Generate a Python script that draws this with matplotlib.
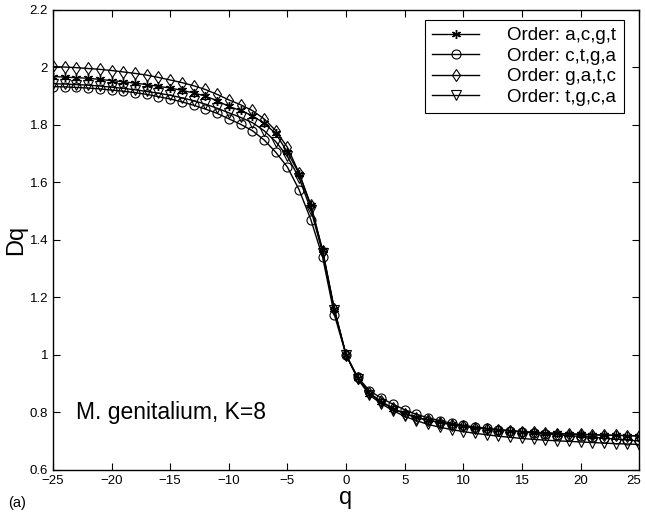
import numpy as np
import matplotlib
matplotlib.use("Agg")
import matplotlib.pyplot as plt
import matplotlib.transforms as mtrans
from matplotlib.ticker import FormatStrFormatter

plt.rcParams['font.family'] = ['Liberation Sans', 'DejaVu Sans']

q = np.arange(-25, 26)

# Order: a,c,g,t  (stars)
d_acgt = [1.968, 1.966, 1.964, 1.962, 1.958, 1.954, 1.950, 1.945, 1.940, 1.934,
          1.928, 1.920, 1.911, 1.900, 1.884, 1.864, 1.850, 1.832, 1.806, 1.770,
          1.705, 1.630, 1.520, 1.364, 1.158, 1.000, 0.918, 0.865, 0.836, 0.813,
          0.796, 0.783, 0.773, 0.765, 0.758, 0.752, 0.747, 0.743, 0.739, 0.736,
          0.733, 0.731, 0.729, 0.727, 0.725, 0.724, 0.722, 0.721, 0.720, 0.719, 0.718]
# Order: c,t,g,a  (circles)
d_ctga = [1.933, 1.932, 1.930, 1.928, 1.925, 1.921, 1.917, 1.912, 1.906, 1.898,
          1.890, 1.880, 1.868, 1.855, 1.840, 1.821, 1.802, 1.780, 1.748, 1.705,
          1.653, 1.574, 1.470, 1.340, 1.140, 1.000, 0.922, 0.875, 0.850, 0.828,
          0.809, 0.793, 0.781, 0.771, 0.762, 0.755, 0.749, 0.744, 0.740, 0.736,
          0.732, 0.728, 0.725, 0.722, 0.719, 0.716, 0.713, 0.710, 0.707, 0.704, 0.700]
# Order: g,a,t,c  (diamonds)
d_gatc = [2.003, 2.001, 1.999, 1.996, 1.993, 1.989, 1.984, 1.979, 1.973, 1.965,
          1.956, 1.947, 1.936, 1.923, 1.906, 1.887, 1.870, 1.850, 1.821, 1.780,
          1.722, 1.632, 1.520, 1.362, 1.160, 1.000, 0.918, 0.867, 0.838, 0.814,
          0.795, 0.782, 0.772, 0.764, 0.757, 0.751, 0.746, 0.742, 0.738, 0.735,
          0.732, 0.730, 0.728, 0.726, 0.724, 0.723, 0.722, 0.721, 0.720, 0.719, 0.718]
# Order: t,g,c,a  (triangles)
d_tgca = [1.943, 1.942, 1.940, 1.938, 1.935, 1.931, 1.927, 1.922, 1.916, 1.910,
          1.903, 1.894, 1.884, 1.872, 1.858, 1.842, 1.826, 1.808, 1.780, 1.742,
          1.690, 1.615, 1.505, 1.355, 1.155, 1.000, 0.916, 0.860, 0.830, 0.806,
          0.786, 0.771, 0.758, 0.748, 0.740, 0.733, 0.727, 0.722, 0.717, 0.713,
          0.709, 0.706, 0.703, 0.701, 0.699, 0.697, 0.695, 0.693, 0.691, 0.690, 0.688]

labels = ['Order: a,c,g,t', 'Order: c,t,g,a', 'Order: g,a,t,c', 'Order: t,g,c,a']
markers = [(6, 2, 0), 'o', 'd', 'v']
series = [d_acgt, d_ctga, d_gatc, d_tgca]

fig = plt.figure(figsize=(6.45, 5.18), dpi=100)
ax = fig.add_axes([0.082, 0.093, 0.909, 0.888])

for d, m, lab in zip(series, markers, labels):
    ax.plot(q, d, color='black', lw=1.0, marker=m, ms=6.5,
            mfc='none', mec='black', mew=1.0 if m == (6, 2, 0) else 0.8, label=lab)

ax.set_xlim(-25, 25)
ax.set_ylim(0.6, 2.2)
ax.set_xticks(np.arange(-25, 26, 5))
ax.set_yticks(np.arange(0.6, 2.21, 0.2))
ax.yaxis.set_major_formatter(FormatStrFormatter('%g'))
ax.tick_params(direction='in', top=True, right=True, labelsize=9.5, length=5, width=0.8)
for s in ax.spines.values():
    s.set_linewidth(1.0)

# nudge the last x tick label so it stays inside the figure
last = ax.get_xticklabels()[-1]
last.set_transform(last.get_transform() + mtrans.ScaledTranslation(-4 / 72, 0, fig.dpi_scale_trans))

ax.set_xlabel('q', fontsize=17, labelpad=0)
ax.set_ylabel('Dq', fontsize=17, labelpad=2)

ax.text(-23, 0.8, 'M. genitalium, K=8', fontsize=16.5, va='center', ha='left')
fig.text(0.012, 0.022, '(a)', fontsize=10.5)

leg = ax.legend(loc='upper right', bbox_to_anchor=(0.974, 0.979), fontsize=13.5,
                frameon=True, fancybox=False, edgecolor='black', handlelength=2.5,
                borderpad=0.4, labelspacing=0.18, handletextpad=1.5, borderaxespad=0)
leg.get_frame().set_linewidth(0.8)
leg.get_frame().set_alpha(1)

fig.savefig('out.png', dpi=100)
